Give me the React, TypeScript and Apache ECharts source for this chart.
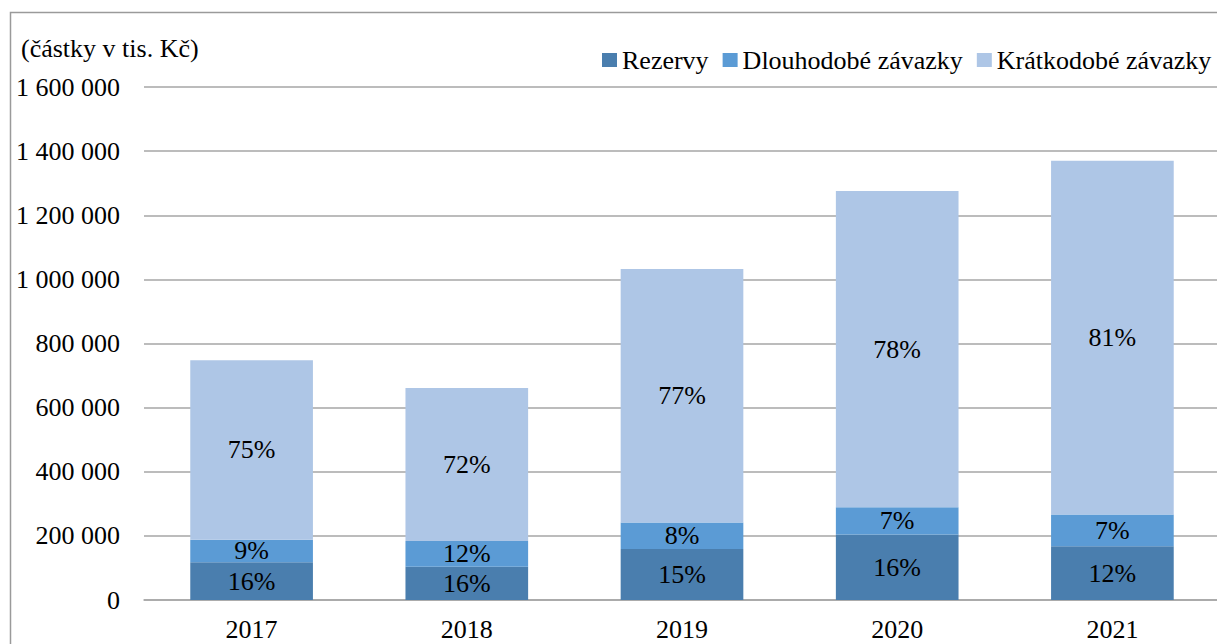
import React, { useEffect, useRef } from "react";
import * as echarts from "echarts";

const categories = ["2017", "2018", "2019", "2020", "2021"];
const rezervy = [118000, 104000, 159000, 204000, 168000];
const dlouhodobe = [70000, 80000, 83000, 85000, 99000];
const kratkodobe = [560000, 477000, 790000, 987000, 1103000];
const rezervyPct = ["16%", "16%", "15%", "16%", "12%"];
const dlouhodobePct = ["9%", "12%", "8%", "7%", "7%"];
const kratkodobePct = ["75%", "72%", "77%", "78%", "81%"];

const FONT = "'Liberation Serif', 'Times New Roman', Times, serif";
const FS = 26;

function fmt(v: number): string {
  return String(v).replace(/\B(?=(\d{3})+(?!\d))/g, " ");
}

export default function App() {
  const ref = useRef<HTMLDivElement>(null);
  useEffect(() => {
    if (!ref.current) return;
    const chart = echarts.init(ref.current, null, { renderer: "svg" });
    const labelOf = (arr: string[]) => ({
      show: true,
      position: "inside",
      color: "#000",
      fontFamily: FONT,
      fontSize: FS,
      formatter: (p: any) => arr[p.dataIndex],
    });
    chart.setOption({
      animation: false,
      backgroundColor: "#fff",
      graphic: [
        {
          type: "rect",
          shape: { x: 10.5, y: 12.5, width: 1300, height: 700 },
          style: { fill: "none", stroke: "#9a9a9a", lineWidth: 1.5 },
          silent: true,
          z: -1,
        },
        {
          type: "text",
          left: 21,
          top: 35,
          style: { text: "(částky v tis. Kč)", fontFamily: FONT, fontSize: FS, fill: "#000" },
        },
      ],
      legend: {
        left: 597,
        top: 42,
        icon: "rect",
        itemWidth: 15,
        itemHeight: 14,
        itemGap: 14,
        textStyle: { fontFamily: FONT, fontSize: FS, color: "#000" },
        data: ["Rezervy", "Dlouhodobé závazky", "Krátkodobé závazky"],
      },
      grid: { left: 144, right: 0, top: 87, bottom: 44, containLabel: false },
      xAxis: {
        type: "category",
        data: categories,
        axisLine: { show: true, lineStyle: { color: "#a6a6a6", width: 1.5 } },
        axisTick: { show: false },
        axisLabel: { fontFamily: FONT, fontSize: FS, color: "#000", margin: 16 },
      },
      yAxis: {
        type: "value",
        min: 0,
        max: 1600000,
        interval: 200000,
        axisLine: { show: false },
        axisTick: { show: false },
        splitLine: { show: true, lineStyle: { color: "#a6a6a6", width: 1.5 } },
        axisLabel: {
          fontFamily: FONT,
          fontSize: FS,
          color: "#000",
          margin: 24,
          formatter: (v: number) => fmt(v),
        },
      },
      series: [
        {
          name: "Rezervy",
          type: "bar",
          stack: "a",
          barWidth: "57%",
          data: rezervy,
          itemStyle: { color: "#4a7eae" },
          label: labelOf(rezervyPct),
        },
        {
          name: "Dlouhodobé závazky",
          type: "bar",
          stack: "a",
          data: dlouhodobe,
          itemStyle: { color: "#5b9bd5" },
          label: labelOf(dlouhodobePct),
        },
        {
          name: "Krátkodobé závazky",
          type: "bar",
          stack: "a",
          data: kratkodobe,
          itemStyle: { color: "#aec6e6" },
          label: labelOf(kratkodobePct),
        },
      ],
    });
    return () => chart.dispose();
  }, []);
  return (
    <div
      ref={ref}
      style={{ position: "fixed", left: 0, top: 0, width: 1220, height: 644, background: "#fff" }}
    />
  );
}
